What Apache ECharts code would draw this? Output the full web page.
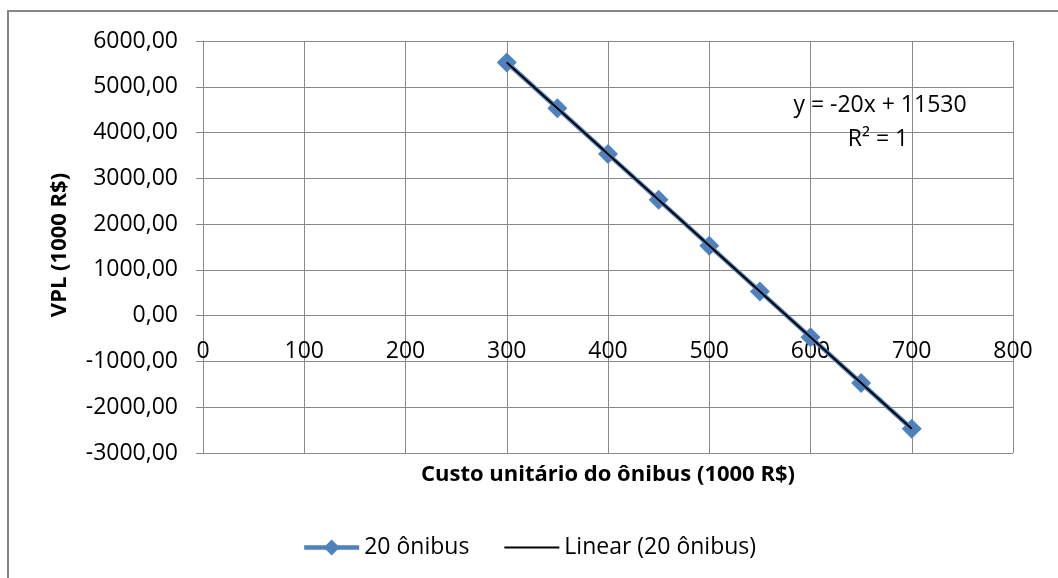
<!DOCTYPE html>
<html><head><meta charset="utf-8">
<script src="https://cdn.jsdelivr.net/npm/echarts@6/dist/echarts.min.js"></script>
<style>html,body{margin:0;padding:0;background:#fff}#c{width:1058px;height:578px}</style>
</head><body><div id="c"></div>
<script>
// Data
const custo = [300, 350, 400, 450, 500, 550, 600, 650, 700];
const vpl = [5530, 4530, 3530, 2530, 1530, 530, -470, -1470, -2470];
const trendX = [300, 700];
const trendY = [5530, -2470];
const seriesName = '20 ônibus';
const trendName = 'Linear (20 ônibus)';
const eqLine1 = 'y = -20x + 11530';
const eqLine2 = 'R² = 1';
const xTitle = 'Custo unitário do ônibus (1000 R$)';
const yTitle = 'VPL (1000 R$)';
const yMin = -3000, yMax = 6000;

const FONT = "'Open Sans', 'Liberation Sans', sans-serif";
const GRID = '#898989';
const gridTop = 41, gridBottom = 125, H = 578;
const plotH = H - gridTop - gridBottom;
const zeroOffset = -plotH * (0 - yMin) / (yMax - yMin);

const chart = echarts.init(document.getElementById('c'), null, {renderer: 'canvas'});
chart.setOption({
  animation: false,
  backgroundColor: '#fff',
  textStyle: {fontFamily: FONT},
  grid: {left: 203, top: gridTop, right: 45, bottom: gridBottom, containLabel: false},
  xAxis: {
    type: 'value', min: 0, max: 800, interval: 100,
    position: 'bottom', offset: zeroOffset,
    axisLine: {show: true, onZero: false, lineStyle: {color: GRID, width: 1}},
    axisTick: {show: true, inside: false, length: 7, lineStyle: {color: GRID}},
    axisLabel: {color: '#000', fontSize: 23, fontFamily: FONT, margin: 24},
    splitLine: {show: true, lineStyle: {color: GRID, width: 1}}
  },
  yAxis: {
    type: 'value', min: yMin, max: yMax, interval: 1000,
    axisLine: {show: true, onZero: false, lineStyle: {color: GRID, width: 1}},
    axisTick: {show: true, length: 7, lineStyle: {color: GRID}},
    axisLabel: {color: '#000', fontSize: 23, fontFamily: FONT, margin: 25,
      formatter: v => v.toFixed(2).replace('.', ',')},
    splitLine: {show: true, lineStyle: {color: GRID, width: 1}}
  },
  legend: {
    bottom: 14, left: 'center', itemGap: 34, itemWidth: 55, itemHeight: 20,
    textStyle: {color: '#000', fontSize: 23, fontFamily: FONT},
    data: [
      {name: seriesName, lineStyle: {width: 4.5}},
      {name: trendName, lineStyle: {width: 2}, itemStyle: {opacity: 0}}
    ]
  },
  series: [
    {
      name: seriesName, type: 'line',
      data: custo.map((x, i) => [x, vpl[i]]),
      symbol: 'diamond', symbolSize: 20,
      lineStyle: {color: '#4f81bd', width: 4.5},
      itemStyle: {color: '#4f81bd'},
      z: 2
    },
    {
      name: trendName, type: 'line',
      data: trendX.map((x, i) => [x, trendY[i]]),
      symbol: 'none',
      lineStyle: {color: '#000', width: 1.8},
      itemStyle: {color: '#000'},
      z: 3
    }
  ],
  graphic: [
    {type: 'rect', shape: {x: 8, y: 11, width: 1100, height: 620}, style: {fill: 'none', stroke: '#868686', lineWidth: 2}, z: -1, silent: true},
    {type: 'text', x: 608, y: 475, style: {text: xTitle, font: "bold 22px " + FONT, fill: '#000', align: 'center', verticalAlign: 'middle'}},
    {type: 'text', x: 60, y: 245, rotation: Math.PI / 2, style: {text: yTitle, font: "bold 22px " + FONT, fill: '#000', align: 'center', verticalAlign: 'middle'}},
    {type: 'text', x: 880, y: 105, style: {text: eqLine1, font: "23px " + FONT, fill: '#000', align: 'center', verticalAlign: 'middle'}, z: 10},
    {type: 'text', x: 878, y: 139, style: {text: eqLine2, font: "23px " + FONT, fill: '#000', align: 'center', verticalAlign: 'middle'}, z: 10}
  ]
});
</script></body></html>
